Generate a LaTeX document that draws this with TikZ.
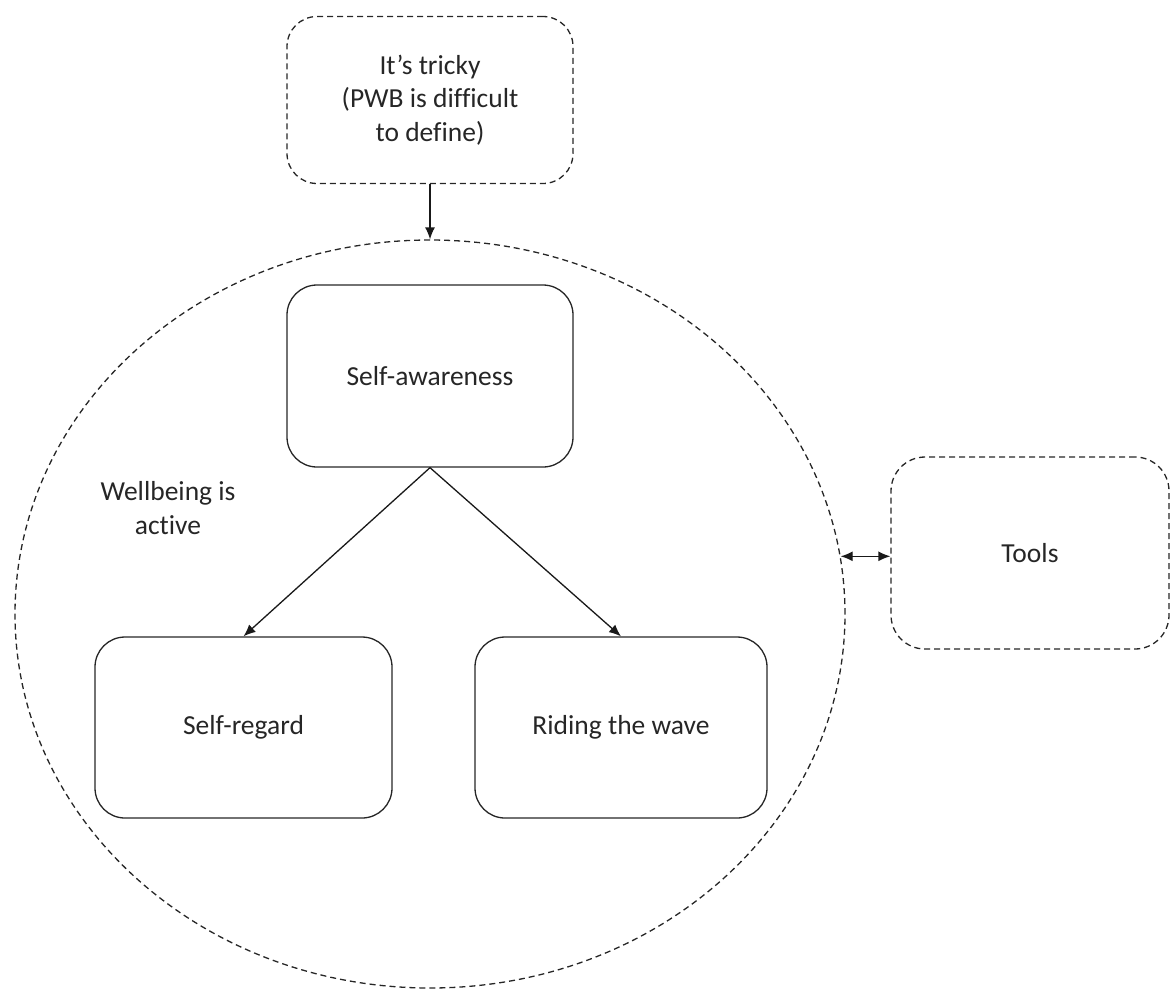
\documentclass[tikz,border=0pt]{standalone}
\usepackage{fontspec}
\setmainfont{Carlito}[Ligatures=NoCommon]
\usetikzlibrary{shapes.geometric,arrows.meta}
\begin{document}
\begin{tikzpicture}[x=1pt,y=-1pt,
  txt/.style={font=\fontsize{27.5}{33.5}\selectfont, text=black!85, align=center},
  box/.style={txt, draw=black!85, line width=1.3pt, rounded corners=30pt, inner sep=0pt},
  dbox/.style={box, dash pattern=on 6pt off 4pt},
  arr/.style={-{Latex[length=12pt,width=10pt]}, line width=1.3pt, draw=black!90},
  darr/.style={{Latex[length=12pt,width=10pt]}-{Latex[length=12pt,width=10pt]}, line width=1.3pt, draw=black!90}]
\useasboundingbox (0,0) rectangle (1170,989);
\node[dbox, minimum width=286pt, minimum height=167pt] (tricky) at (430,100) {It’s tricky\\(PWB is difficult\\to define)};
\node[ellipse, draw=black!85, line width=1.3pt, dash pattern=on 6pt off 4pt, minimum width=830pt, minimum height=748pt, inner sep=0pt] (well) at (430,614) {};
\node[box, minimum width=286pt, minimum height=182pt] (sa) at (430,376) {Self-awareness};
\node[box, minimum width=297pt, minimum height=181pt] (sr) at (243.5,727.5) {Self-regard};
\node[box, minimum width=292pt, minimum height=181pt] (rw) at (621,727.5) {Riding the wave};
\node[dbox, minimum width=278pt, minimum height=192pt, rounded corners=34pt] (tools) at (1030,553) {Tools};
\node[txt] (active) at (168,508) {Wellbeing is\\active};
\draw[arr] (tricky.south) -- (well.north);
\draw[arr] (sa.south) -- (sr.north);
\draw[arr] (sa.south) -- (rw.north);
\draw[darr] (well.8.33) -- (well.8.33 -| tools.west);
\end{tikzpicture}
\end{document}
